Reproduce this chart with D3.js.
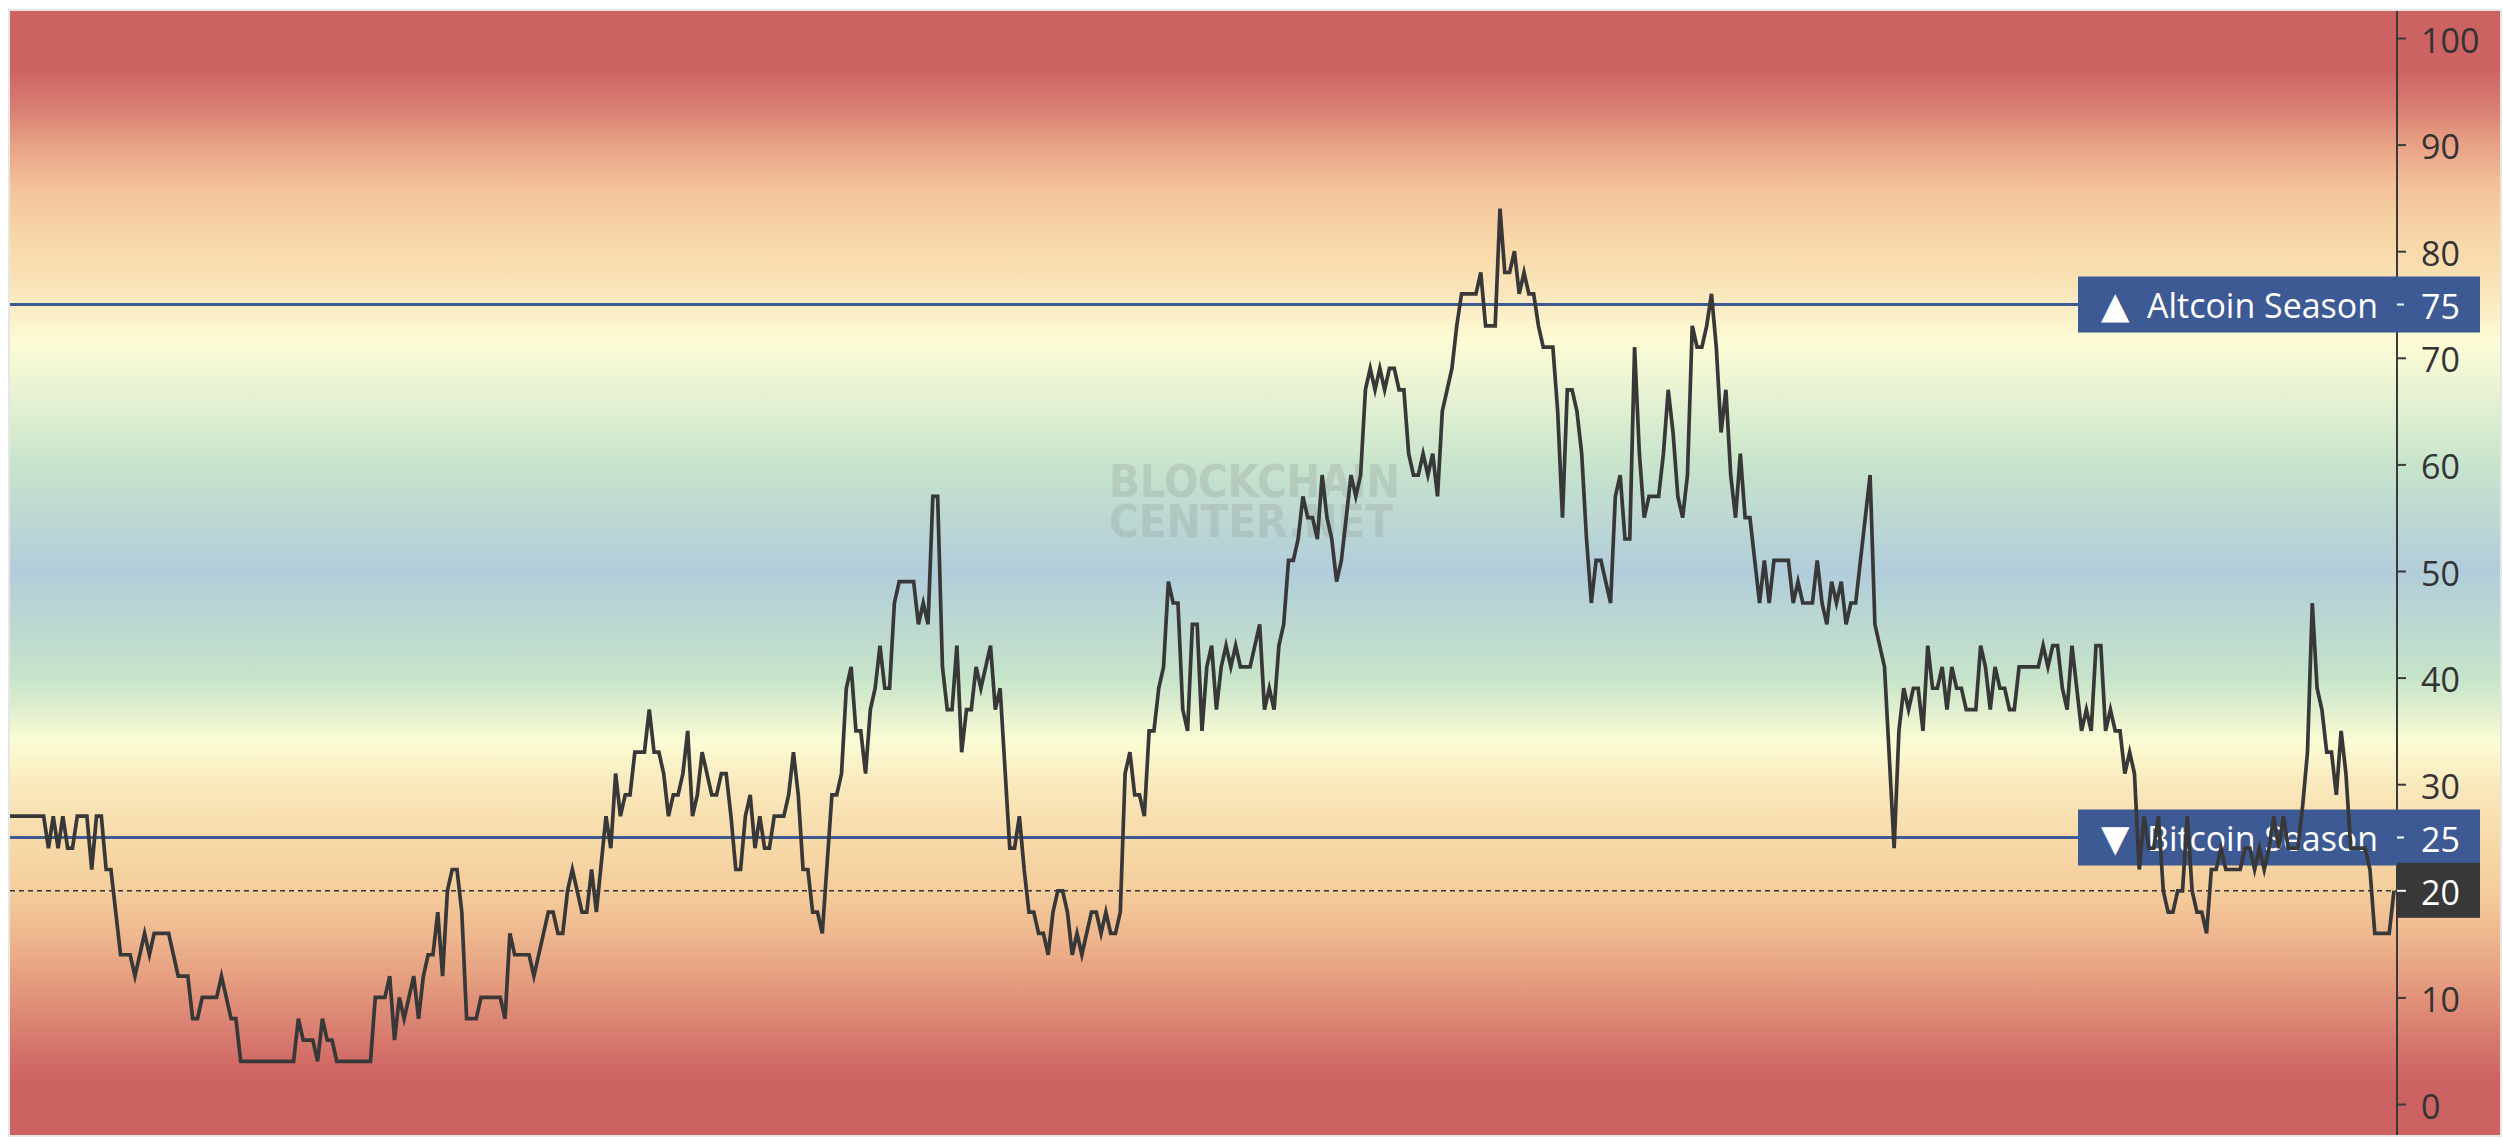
<!DOCTYPE html>
<html>
<head>
<meta charset="utf-8">
<script src="https://cdn.jsdelivr.net/npm/d3@7"></script>
<style>
  html, body { margin: 0; padding: 0; background: #ffffff; }
  svg { display: block; }
</style>
</head>
<body>
<svg id="chart" width="2503" height="1142"></svg>
<script>
// ---------------- DATA ----------------
// Altcoin Season Index: [day, index value] (vertices of the daily series)
const altcoinSeasonIndex = [
  [0,27],[7,27],[8,24],[9,27],[10,24],[11,27],[12,24],[13,24],[14,27],[16,27],[17,22],[18,27],[19,27],[20,22],[21,22],[23,14],[25,14],[26,12],[28,16],[29,14],[30,16],[33,16],[35,12],[37,12],[38,8],[39,8],[40,10],[43,10],[44,12],[46,8],[47,8],[48,4],[59,4],[60,8],[61,6],[63,6],[64,4],[65,8],[66,6],[67,6],[68,4],[75,4],[76,10],[78,10],[79,12],[80,6],[81,10],[82,8],[84,12],
  [85,8],[86,12],[87,14],[88,14],[89,18],[90,12],[91,20],[92,22],[93,22],[94,18],[95,8],[97,8],[98,10],[102,10],[103,8],[104,16],[105,14],[108,14],[109,12],[112,18],[113,18],[114,16],[115,16],[116,20],[117,22],[119,18],[120,18],[121,22],[122,18],[124,27],[125,24],[126,31],[127,27],[128,29],[129,29],[130,33],[132,33],[133,37],[134,33],[135,33],[136,31],[137,27],[138,29],[139,29],[140,31],[141,35],[142,27],[143,29],[144,33],[146,29],[147,29],[148,31],[149,31],[150,27],[151,22],[152,22],[153,27],[154,29],[155,24],[156,27],[157,24],[158,24],[159,27],[161,27],[162,29],[163,33],[164,29],[165,22],[166,22],[167,18],[168,18],[169,16],
  [171,29],[172,29],[173,31],[174,39],[175,41],[176,35],[177,35],[178,31],[179,37],[180,39],[181,43],[182,39],[183,39],[184,47],[185,49],[188,49],[189,45],[190,47],[191,45],[192,57],[193,57],[194,41],[195,37],[196,37],[197,43],[198,33],[199,37],[200,37],[201,41],[202,39],[204,43],[205,37],[206,39],[208,24],[209,24],[210,27],[211,22],[212,18],[213,18],[214,16],[215,16],[216,14],[217,18],[218,20],[219,20],[220,18],[221,14],[222,16],[223,14],[225,18],[226,18],[227,16],[228,18],[229,16],[230,16],[231,18],[232,31],[233,33],[234,29],[235,29],[236,27],[237,35],[238,35],[239,39],[240,41],[241,49],[242,47],[243,47],[244,37],[245,35],[246,45],[247,45],[248,35],[249,41],[250,43],[251,37],[252,41],[253,43],
  [254,41],[255,43],[256,41],[258,41],[260,45],[261,37],[262,39],[263,37],[264,43],[265,45],[266,51],[267,51],[268,53],[269,57],[270,55],[271,55],[272,53],[273,59],[274,55],[275,53],[276,49],[277,51],[278,55],[279,59],[280,57],[281,59],[282,67],[283,69],[284,67],[285,69],[286,67],[287,69],[288,69],[289,67],[290,67],[291,61],[292,59],[293,59],[294,61],[295,59],[296,61],[297,57],[298,65],[299,67],[300,69],[301,73],[302,76],[305,76],[306,78],[307,73],[309,73],[310,84],[311,78],[312,78],[313,80],[314,76],[315,78],[316,76],[317,76],[318,73],[319,71],[321,71],[322,65],[323,55],[324,67],[325,67],[326,65],[327,61],[328,53],[329,47],[330,51],[331,51],[333,47],
  [334,57],[335,59],[336,53],[337,53],[338,71],[339,61],[340,55],[341,57],[343,57],[344,61],[345,67],[346,63],[347,57],[348,55],[349,59],[350,73],[351,71],[352,71],[353,73],[354,76],[355,71],[356,63],[357,67],[358,59],[359,55],[360,61],[361,55],[362,55],[363,51],[364,47],[365,51],[366,47],[367,51],[370,51],[371,47],[372,49],[373,47],[375,47],[376,51],[377,47],[378,45],[379,49],[380,47],[381,49],[382,45],[383,47],[384,47],[387,59],[388,45],[390,41],[392,24],[393,35],[394,39],[395,37],[396,39],[397,39],[398,35],[399,43],[400,39],[401,39],[402,41],[403,37],[404,41],[405,39],[406,39],[407,37],[409,37],[410,43],[411,41],[412,37],[413,41],[414,39],[415,39],[416,37],[417,37],[418,41],
  [422,41],[423,43],[424,41],[425,43],[426,43],[427,39],[428,37],[429,43],[430,39],[431,35],[432,37],[433,35],[434,43],[435,43],[436,35],[437,37],[438,35],[439,35],[440,31],[441,33],[442,31],[443,22],[444,27],[445,24],[446,24],[447,27],[448,20],[449,18],[450,18],[451,20],[452,20],[453,27],[454,20],[455,18],[456,18],[457,16],[458,22],[459,22],[460,24],[461,22],[464,22],[465,24],[466,24],[467,22],[468,24],[469,22],[470,24],[471,27],[472,24],[473,27],[474,24],[476,24],[477,28],[478,33],[479,47],[480,39],[481,37],[482,33],[483,33],[484,29],[485,35],[486,31],[487,24],[490,24],[491,22],[492,16],[495,16],[496,20]
];
const yTicks = [0, 10, 20, 30, 40, 50, 60, 70, 80, 90, 100];
const seasonLevels = [
  { name: "Altcoin Season", symbol: "\u25B2", value: 75 },
  { name: "Bitcoin Season", symbol: "\u25BC", value: 25 }
];
const currentValue = 20;
const watermarkLines = ["BLOCKCHAIN", "CENTER.NET"];

// ---------------- LAYOUT / STYLE ----------------
const plotL = 10, plotT = 11, plotB = 1135, bgR = 2500;
const axisX = 2397, lineEndX = 2394;
const FONT = "'Open Sans', 'Noto Sans', 'DejaVu Sans', sans-serif";
const BLUE = "#3d5a95";
const INK = "#383838";

const svg = d3.select("#chart");

const x = d3.scaleLinear()
  .domain(d3.extent(altcoinSeasonIndex, d => d[0]))
  .range([plotL, lineEndX]);
const y = d3.scaleLinear().domain([0, 100]).range([1104, 38]);

// background gradient (value -> colour)
const bgStops = [
  [102.6, "#cd6262"], [97, "#cd6363"], [93, "#da8275"], [90, "#e8a284"], [86, "#f3c29a"],
  [82, "#f7d4a5"], [78, "#f9e0b2"], [75, "#fbebc2"], [71.5, "#fdfcd6"], [66, "#e4f1d2"],
  [60, "#c8e4cc"], [55, "#bdd8d3"], [50, "#b2cdda"], [45, "#bcd8d2"], [40, "#c6e4ca"],
  [37, "#e0efcf"], [34, "#fcfcd4"], [30, "#f9e9bd"], [25, "#f8daa9"], [20, "#f5cd9c"],
  [16, "#efb88f"], [12, "#e6a080"], [8, "#dc8674"], [4, "#d16c67"], [2, "#cd6262"], [-3, "#cd6262"]
];
const defs = svg.append("defs");
const grad = defs.append("linearGradient")
  .attr("id", "bgGrad")
  .attr("gradientUnits", "userSpaceOnUse")
  .attr("x1", 0).attr("x2", 0)
  .attr("y1", plotT).attr("y2", plotB);
grad.selectAll("stop").data(bgStops).join("stop")
  .attr("offset", d => Math.max(0, Math.min(1, (y(d[0]) - plotT) / (plotB - plotT))))
  .attr("stop-color", d => d[1]);

// frame + background
svg.append("rect").attr("x", plotL - 2).attr("y", plotT - 2)
  .attr("width", bgR - plotL + 4).attr("height", plotB - plotT + 4)
  .attr("fill", "#e6e6e6");
svg.append("rect").attr("x", plotL).attr("y", plotT)
  .attr("width", bgR - plotL).attr("height", plotB - plotT)
  .attr("fill", "url(#bgGrad)");

// watermark (one text element, two lines)
const wm = svg.append("text")
  .attr("fill", "#97a29c").attr("opacity", 0.32)
  .style("font-family", "'DejaVu Sans', sans-serif").style("font-weight", "bold")
  .attr("font-size", 44);
wm.selectAll("tspan").data(watermarkLines).join("tspan")
  .attr("x", 1109)
  .attr("y", (d, i) => 497 + i * 40)
  .attr("textLength", (d, i) => i === 0 ? 291 : 284)
  .attr("lengthAdjust", "spacingAndGlyphs")
  .text(d => d);

// dotted current-value line
svg.append("line")
  .attr("x1", plotL).attr("x2", axisX)
  .attr("y1", y(currentValue)).attr("y2", y(currentValue))
  .attr("stroke", "#333").attr("stroke-width", 1.6)
  .attr("stroke-dasharray", "5,4");

// season threshold lines
svg.selectAll(".level").data(seasonLevels).join("line")
  .attr("class", "level")
  .attr("x1", plotL).attr("x2", 2080)
  .attr("y1", d => y(d.value)).attr("y2", d => y(d.value))
  .attr("stroke", BLUE).attr("stroke-width", 3);

// right axis
svg.append("line")
  .attr("x1", axisX).attr("x2", axisX).attr("y1", plotT).attr("y2", plotB)
  .attr("stroke", "#3a3a3a").attr("stroke-width", 2);
const gAxis = svg.append("g")
  .attr("transform", `translate(${axisX},0)`)
  .call(d3.axisRight(y).tickValues(yTicks).tickSize(9).tickPadding(15).tickFormat(d3.format("d")));
gAxis.select(".domain").remove();
gAxis.selectAll(".tick line").attr("stroke", "#3a3a3a").attr("stroke-width", 2);
gAxis.selectAll(".tick text")
  .attr("fill", "#333").attr("dy", "14px")
  .style("font-family", FONT).style("font-size", "34px");

// season label boxes
const lab = svg.selectAll(".lab").data(seasonLevels).join("g")
  .attr("class", "lab")
  .attr("transform", d => `translate(0,${y(d.value)})`);
lab.append("rect").attr("x", 2078).attr("y", -28).attr("width", 402).attr("height", 56).attr("fill", BLUE);
lab.append("text").attr("x", 2101).attr("y", 13)
  .attr("fill", "#fff").style("font-family", "'DejaVu Sans', sans-serif").style("font-size", "37px")
  .text(d => d.symbol);
lab.append("text").attr("x", 2147).attr("y", 13)
  .attr("fill", "#fff").style("font-family", FONT).style("font-size", "35px")
  .attr("textLength", 231).attr("lengthAdjust", "spacingAndGlyphs")
  .text(d => d.name);
lab.append("line").attr("x1", axisX).attr("x2", axisX + 7).attr("y1", 0).attr("y2", 0)
  .attr("stroke", "#fff").attr("stroke-width", 2);
lab.append("text").attr("x", 2421).attr("y", 14)
  .attr("fill", "#fff").style("font-family", FONT).style("font-size", "34px")
  .text(d => d.value);

// index line
const line = d3.line().x(d => x(d[0])).y(d => y(d[1])).curve(d3.curveLinear);
svg.append("path")
  .datum(altcoinSeasonIndex)
  .attr("d", line)
  .attr("fill", "none")
  .attr("stroke", INK)
  .attr("stroke-width", 3.7)
  .attr("stroke-linejoin", "miter")
  .attr("stroke-miterlimit", 6);

// current value tag
const cur = svg.append("g").attr("transform", `translate(0,${y(currentValue)})`);
cur.append("rect").attr("x", axisX).attr("y", -28).attr("width", 83).attr("height", 55).attr("fill", "#383838");
cur.append("line").attr("x1", axisX).attr("x2", axisX + 9).attr("y1", 0).attr("y2", 0)
  .attr("stroke", "#fff").attr("stroke-width", 2);
cur.append("text").attr("x", 2421).attr("y", 14)
  .attr("fill", "#fff").style("font-family", FONT).style("font-size", "34px")
  .text(currentValue);
</script>
</body>
</html>
